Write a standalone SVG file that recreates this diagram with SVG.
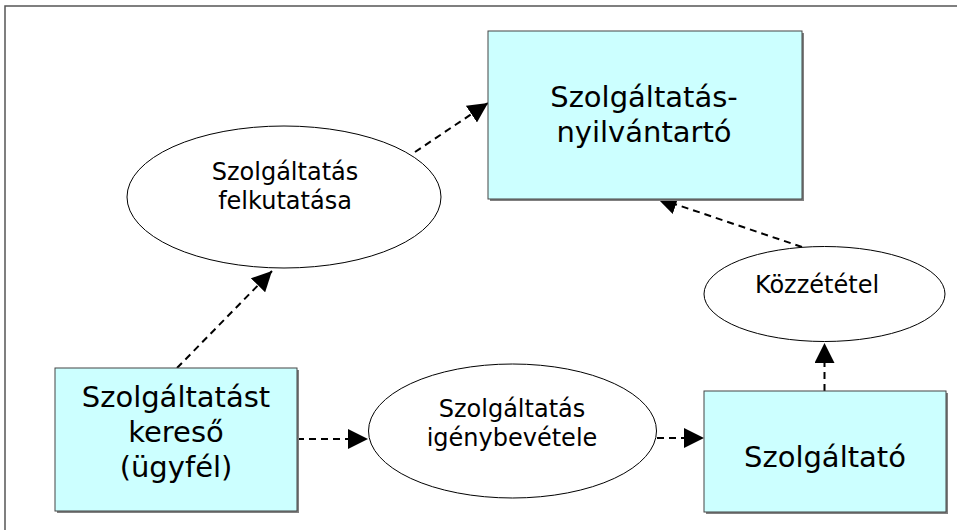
<svg xmlns="http://www.w3.org/2000/svg" width="957" height="530" viewBox="0 0 957 530">
  <style>
    .box { fill: #ccffff; stroke: #444; stroke-width: 1; }
    .shadow { fill: #808080; }
    .oval { fill: #ffffff; stroke: #000; stroke-width: 1; }
    .lbl { font-family: "DejaVu Sans", Verdana, sans-serif; fill: #000; text-anchor: middle; }
    .big { font-size: 29px; }
    .small { font-size: 24px; }
    .flow { fill: none; stroke: #000; stroke-width: 2; stroke-dasharray: 7 5; }
  </style>
  <defs>
    <marker id="head" markerUnits="userSpaceOnUse" markerWidth="20" markerHeight="20" refX="20" refY="10" orient="auto">
      <path d="M0,0 L20,10 L0,20 Z" fill="#000"/>
    </marker>
  </defs>

  <rect width="957" height="530" fill="#ffffff"/>
  <!-- outer frame -->
  <rect x="5" y="6" width="1000" height="600" fill="none" stroke="#555" stroke-width="1.5"/>

  <g id="connectors">
    <line class="flow" x1="177" y1="368" x2="272" y2="271" marker-end="url(#head)"/>
    <line class="flow" x1="415" y1="152" x2="488" y2="103" marker-end="url(#head)"/>
    <line class="flow" x1="802" y1="247" x2="657" y2="198" marker-end="url(#head)"/>
    <line class="flow" x1="824.5" y1="391" x2="824.5" y2="343" marker-end="url(#head)"/>
    <line class="flow" x1="297" y1="439" x2="368" y2="439" marker-end="url(#head)"/>
    <line class="flow" x1="657" y1="438" x2="704" y2="438" marker-end="url(#head)"/>
  </g>

  <g id="registry">
    <rect class="shadow" x="490" y="33" width="314" height="168"/>
    <rect class="box" x="488" y="31" width="314" height="168"/>
    <text class="lbl big" x="644" y="107">Szolgáltatás-</text>
    <text class="lbl big" x="644" y="142">nyilvántartó</text>
  </g>

  <g id="discovery">
    <ellipse class="oval" cx="284" cy="197" rx="157" ry="71"/>
    <text class="lbl small" x="285" y="180">Szolgáltatás</text>
    <text class="lbl small" x="285" y="208.5">felkutatása</text>
  </g>

  <g id="publish">
    <ellipse class="oval" cx="824.5" cy="294" rx="120.5" ry="47.5"/>
    <text class="lbl small" x="817" y="293">Közzététel</text>
  </g>

  <g id="client">
    <rect class="shadow" x="57" y="370" width="242" height="143"/>
    <rect class="box" x="55" y="368" width="242" height="143"/>
    <text class="lbl big" x="176" y="407">Szolgáltatást</text>
    <text class="lbl big" x="176" y="442">kereső</text>
    <text class="lbl big" x="176" y="477">(ügyfél)</text>
  </g>

  <g id="usage">
    <ellipse class="oval" cx="512.5" cy="431" rx="144" ry="67"/>
    <text class="lbl small" x="512" y="417">Szolgáltatás</text>
    <text class="lbl small" x="512" y="446">igénybevétele</text>
  </g>

  <g id="provider">
    <rect class="shadow" x="706" y="393" width="242" height="121"/>
    <rect class="box" x="704" y="391" width="242" height="121"/>
    <text class="lbl big" x="825" y="467">Szolgáltató</text>
  </g>
</svg>
